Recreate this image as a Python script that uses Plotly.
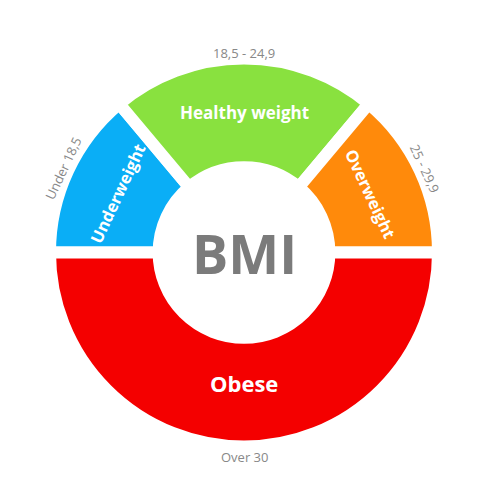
import math
import plotly.graph_objects as go

# ---- data ----
categories = ["Underweight", "Healthy weight", "Overweight", "Obese"]
ranges = ["Under 18,5", "18,5 - 24,9", "25 - 29,9", "Over 30"]
spans = [50, 80, 50, 180]          # share of the ring (degrees)
colors = ["#0AAEF6", "#89E13F", "#FF8A0B", "#F40000"]
center_label = "BMI"

W, H = 500, 500
dom_x = [0.10, 0.876]
dom_y = [0.107, 0.883]
hole = 0.44
gap = 12

fig = go.Figure(go.Pie(
    labels=categories, values=spans, sort=False, direction="clockwise",
    rotation=270, hole=hole, textinfo="none", hoverinfo="label",
    marker=dict(colors=colors, line=dict(color="white", width=gap)),
    domain=dict(x=dom_x, y=dom_y), showlegend=False,
))

# geometry derived from domain
cx = (dom_x[0] + dom_x[1]) / 2 * W
cy = (dom_y[0] + dom_y[1]) / 2 * H
R = min((dom_x[1] - dom_x[0]) * W, (dom_y[1] - dom_y[0]) * H) / 2
r_in = R * hole
ring_mid = ((r_in + gap / 2) + (R - gap / 2)) / 2

total = sum(spans)
start = 180.0
annotations = []
for i, (cat, rng, v) in enumerate(zip(categories, ranges, spans)):
    ang = v / total * 360
    mid = start - ang / 2
    start -= ang
    th = math.radians(mid)
    tangle = -(mid - 90)
    while tangle > 180:
        tangle -= 360
    while tangle < -180:
        tangle += 360
    if abs(tangle) > 90:
        tangle = tangle - 180 if tangle > 0 else tangle + 180
    big = v >= 180
    r_txt = ring_mid - (9 if big else 0)
    fsize = 22 if big else (17 if i == 1 else 16.5)
    annotations.append(dict(
        x=(cx + r_txt * math.cos(th)) / W, y=(cy + r_txt * math.sin(th)) / H,
        xref="paper", yref="paper", text="<b>%s</b>" % cat, showarrow=False,
        textangle=tangle, font=dict(family="Open Sans", size=fsize, color="white"),
        xanchor="center", yanchor="middle"))
    r_out = R + (10 if big else 5)
    annotations.append(dict(
        x=(cx + r_out * math.cos(th)) / W, y=(cy + r_out * math.sin(th)) / H,
        xref="paper", yref="paper", text=rng, showarrow=False,
        textangle=tangle, font=dict(family="Open Sans", size=13, color="#888888"),
        xanchor="center", yanchor="middle"))

annotations.append(dict(
    x=cx / W, y=cy / H, xref="paper", yref="paper", text="<b>%s</b>" % center_label,
    showarrow=False, font=dict(family="Open Sans", size=54, color="#7B7B7B"),
    xanchor="center", yanchor="middle"))

fig.update_layout(width=W, height=H, margin=dict(l=0, r=0, t=0, b=0),
                  paper_bgcolor="white", plot_bgcolor="white",
                  annotations=annotations)
fig.write_html("out.html")
